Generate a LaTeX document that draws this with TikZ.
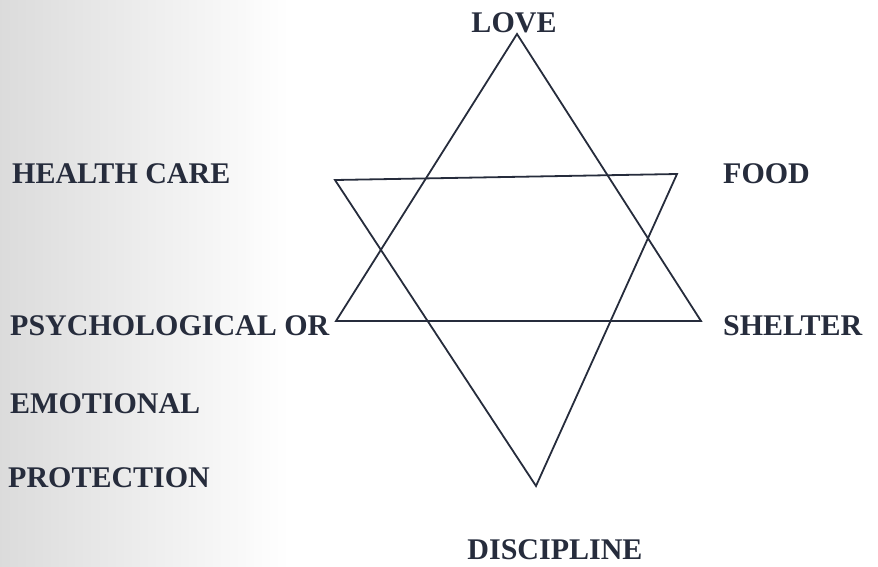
\documentclass[tikz,border=0pt]{standalone}
\usepackage{fontspec}
\setmainfont{Liberation Serif}
\definecolor{ink}{RGB}{38,44,60}
\tikzset{
  starline/.style={draw=ink, line width=1.8pt, line join=miter},
  lbl/.style={font=\fontsize{30}{36}\selectfont\bfseries, text=ink, inner sep=0pt}
}
\begin{document}
\begin{tikzpicture}[x=1pt, y=-1pt]
\useasboundingbox (0,0) rectangle (878,566);
% scan shading on the left
\shade[left color=black!14, right color=white] (0,0) rectangle (290,566);
% points of the star
\coordinate (love) at (517,34);
\coordinate (psy) at (336,321);
\coordinate (shel) at (701,321);
\coordinate (hc) at (335,180);
\coordinate (food) at (677,174);
\coordinate (disc) at (536,486);
% upward triangle
\draw[starline] (love) -- (shel) -- (psy) -- cycle;
% downward triangle
\draw[starline] (hc) -- (food) -- (disc) -- cycle;
% labels
\node[lbl, anchor=base] (tlove) at (514,32) {LOVE};
\node[lbl, anchor=base west] (thc) at (12,183) {HEALTH CARE};
\node[lbl, anchor=base west] (tfood) at (723,183) {FOOD};
\node[lbl, anchor=base west] (tpsy) at (10,335) {PSYCHOLOGICAL OR};
\node[lbl, anchor=base west] (tshel) at (723,335) {SHELTER};
\node[lbl, anchor=base west] (temo) at (10,413) {EMOTIONAL};
\node[lbl, anchor=base west] (tprot) at (8,487) {PROTECTION};
\node[lbl, anchor=base] (tdisc) at (555,559) {DISCIPLINE};
\end{tikzpicture}
\end{document}
